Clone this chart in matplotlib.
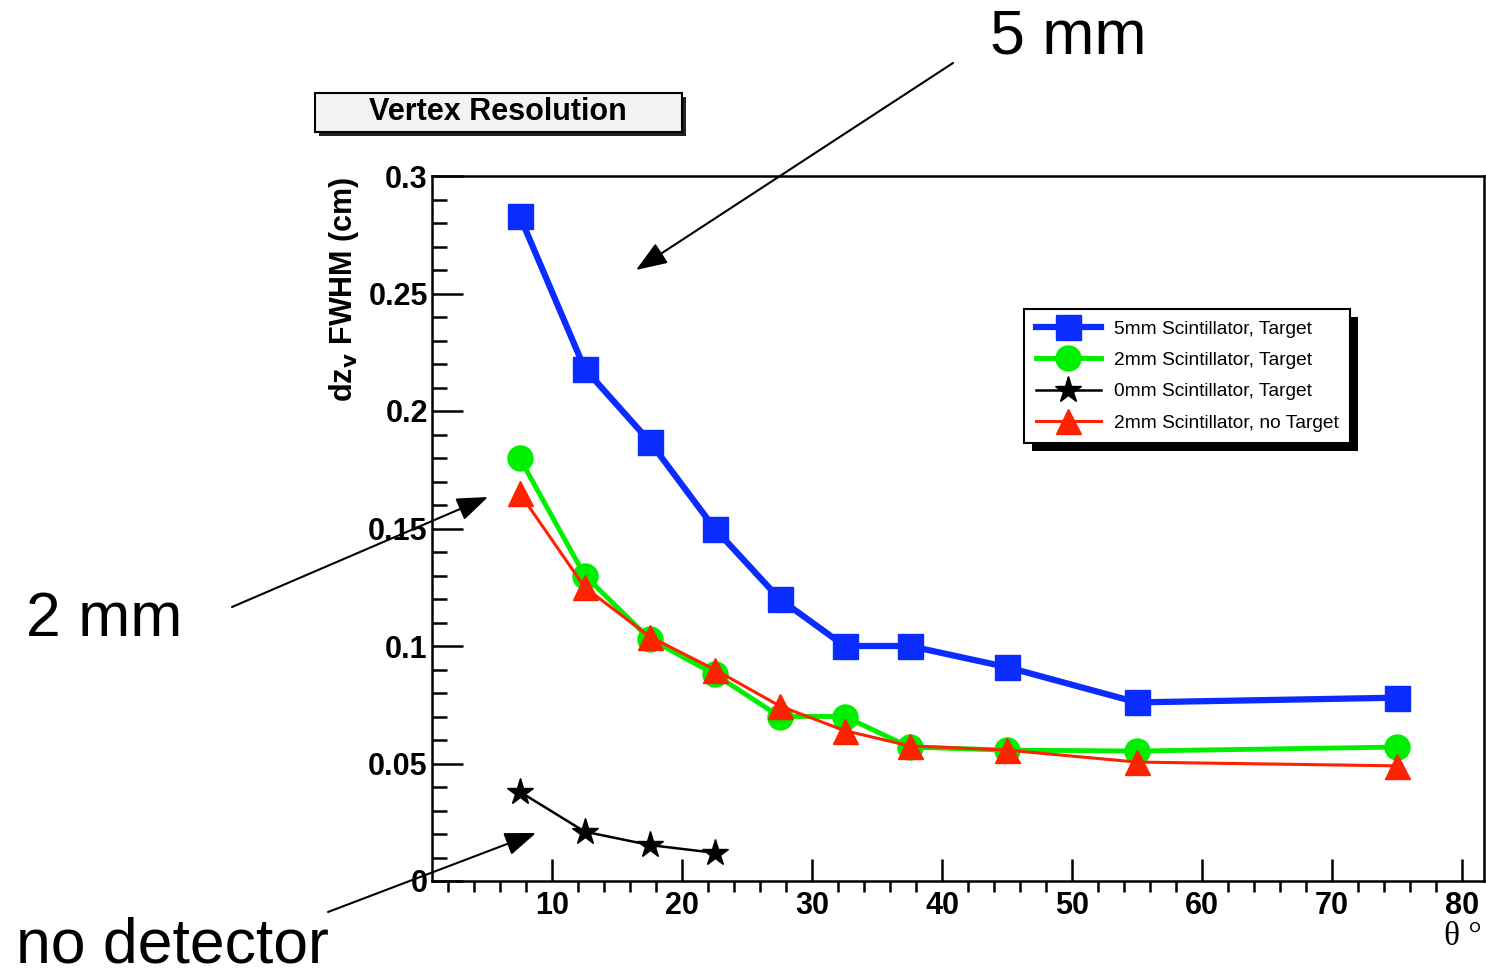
import matplotlib
matplotlib.use("Agg")
import matplotlib.pyplot as plt
from matplotlib.patches import Rectangle, FancyArrowPatch
from matplotlib.ticker import MultipleLocator

plt.rcParams['font.family'] = ['Liberation Sans', 'DejaVu Sans']

# data
theta = [7.5, 12.5, 17.5, 22.5, 27.5, 32.5, 37.5, 45, 55, 75]
res_5mm = [0.283, 0.218, 0.187, 0.150, 0.120, 0.100, 0.100, 0.091, 0.076, 0.078]
res_2mm = [0.180, 0.130, 0.103, 0.088, 0.070, 0.070, 0.057, 0.0557, 0.0553, 0.057]
res_2mm_notgt = [0.165, 0.125, 0.104, 0.090, 0.0745, 0.064, 0.0575, 0.0557, 0.0506, 0.049]
theta_0mm = [7.5, 12.5, 17.5, 22.5]
res_0mm = [0.038, 0.021, 0.0153, 0.012]

labels = ['5mm Scintillator, Target', '2mm Scintillator, Target',
          '0mm Scintillator, Target', '2mm Scintillator, no Target']
xticks = [10, 20, 30, 40, 50, 60, 70, 80]
yticks = [0, 0.05, 0.1, 0.15, 0.2, 0.25, 0.3]
ytick_labels = ['0', '0.05', '0.1', '0.15', '0.2', '0.25', '0.3']

W, H = 1486, 975
def fx(px):
    return px / W
def fy(py):
    return 1 - py / H

fig = plt.figure(figsize=(W / 100, H / 100), dpi=100)
ax = fig.add_axes([fx(432), fy(881), fx(1484) - fx(432), fy(176) - fy(881)])

l1, = ax.plot(theta, res_5mm, color='#0a2cff', lw=4.5, marker='s', ms=18, clip_on=False, zorder=3)
l2, = ax.plot(theta, res_2mm, color='#00ee00', lw=3.5, marker='o', ms=18, clip_on=False, zorder=3)
l3, = ax.plot(theta_0mm, res_0mm, color='black', lw=1.8, marker='*', ms=20, clip_on=False, zorder=3)
l4, = ax.plot(theta, res_2mm_notgt, color='#ff2200', lw=2.2, marker='^', ms=18, clip_on=False, zorder=4)

ax.set_xlim(0.75, 81.7)
ax.set_ylim(0, 0.3)
ax.set_xticks(xticks)
ax.set_xticklabels([str(t) for t in xticks], fontweight='bold')
ax.set_yticks(yticks)
ax.set_yticklabels(ytick_labels, fontweight='bold')
ax.xaxis.set_minor_locator(MultipleLocator(2))
ax.yaxis.set_minor_locator(MultipleLocator(0.01))
ax.tick_params(direction='in', top=False, right=False)
ax.tick_params(axis='y', which='both', direction='in')
ax.tick_params(axis='x', which='major', length=16, width=1.8, pad=7, labelsize=22)
ax.tick_params(axis='x', which='minor', length=8, width=1.8)
ax.tick_params(axis='y', which='major', length=22, width=1.8, pad=3, labelsize=22)
ax.tick_params(axis='y', which='minor', length=11, width=1.8)
for s in ax.spines.values():
    s.set_linewidth(1.8)

ax.set_ylabel(r'dz$_\mathbf{v}$ FWHM (cm)', fontsize=22, fontweight='bold')
ax.yaxis.label.set_horizontalalignment('right')
ax.yaxis.set_label_coords((361 - 432) / (1484 - 432), 1.0)

fig.text(fx(1482), fy(937), 'θ °', family='Liberation Serif', fontsize=24,
         ha='right', va='center')

# legend with hard shadow
leg = ax.legend([l1, l2, l3, l4], labels, loc='upper left',
                bbox_to_anchor=(fx(1024), fy(309)), bbox_transform=fig.transFigure,
                fontsize=13.8, frameon=True, fancybox=False, edgecolor='black', framealpha=1,
                handlelength=3.4, labelspacing=0.72, borderpad=0.6, handletextpad=0.7,
                borderaxespad=0)
leg.get_frame().set_linewidth(1.5)
leg.set_zorder(6)
fig.canvas.draw()
bb = leg.get_window_extent()
sh = Rectangle((bb.x0 + 8, bb.y0 - 8), bb.width, bb.height, transform=None,
               facecolor='black', edgecolor='none', zorder=5, clip_on=False)
ax.add_artist(sh)

# title box
fig.patches.append(Rectangle((fx(319), fy(136)), fx(682) - fx(315), fy(93) - fy(132),
                             transform=fig.transFigure, facecolor='#222222', edgecolor='none'))
fig.patches.append(Rectangle((fx(315), fy(132)), fx(682) - fx(315), fy(93) - fy(132),
                             transform=fig.transFigure, facecolor='#f2f2f2',
                             edgecolor='black', lw=1.5))
fig.text(fx(498), fy(112), 'Vertex Resolution', fontsize=22, fontweight='bold',
         ha='center', va='center')

# big annotations
arrow = dict(arrowstyle='-|>,head_length=1.2,head_width=0.45', color='black', lw=1.5,
             shrinkA=0, shrinkB=0, mutation_scale=16)
fig.text(fx(1068), fy(37), '5 mm', fontsize=45, ha='center', va='center')
fig.text(fx(104), fy(619), '2 mm', fontsize=45, ha='center', va='center')
fig.text(fx(172), fy(946), 'no detector', fontsize=45, ha='center', va='center')
fig.add_artist(FancyArrowPatch((fx(953), fy(63)), (fx(636), fy(270)),
                               transform=fig.transFigure, **arrow))
fig.add_artist(FancyArrowPatch((fx(232), fy(607)), (fx(488), fy(497)),
                               transform=fig.transFigure, **arrow))
fig.add_artist(FancyArrowPatch((fx(328), fy(912)), (fx(536), fy(833)),
                               transform=fig.transFigure, **arrow))

fig.savefig('out.png', dpi=100)
